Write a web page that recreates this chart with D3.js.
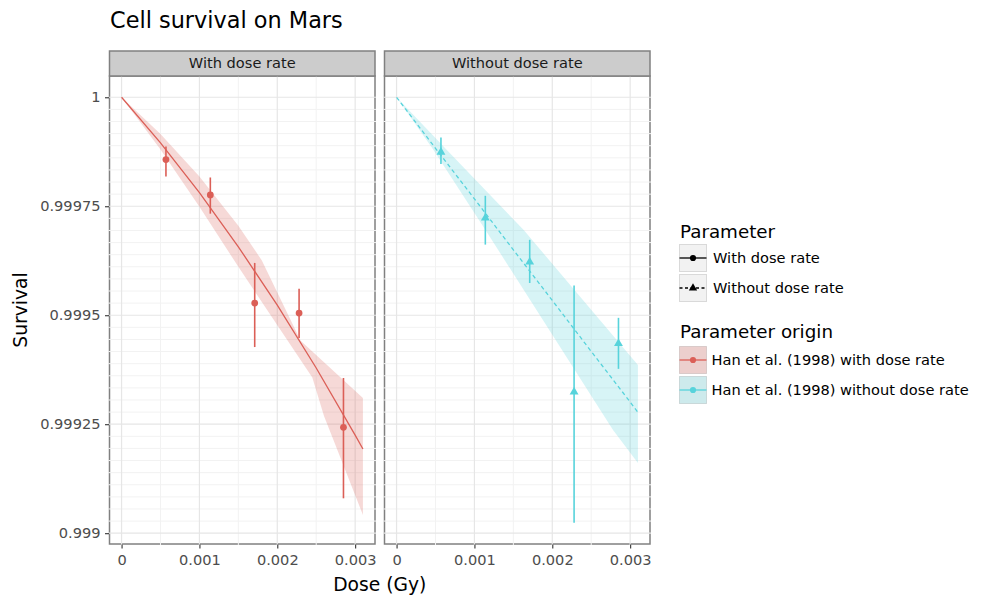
<!DOCTYPE html>
<html>
<head>
<meta charset="utf-8">
<script src="https://cdn.jsdelivr.net/npm/d3@7"></script>
<style>
  body { margin: 0; background: #fff; }
  text { font-family: "DejaVu Sans", sans-serif; }
</style>
</head>
<body>
<svg id="chart" width="984" height="601"></svg>
<script>
// ---- data -------------------------------------------------------------
const doses = [0.00057, 0.00114, 0.00171, 0.00228, 0.00285];

// "With dose rate" observations (point + range)
const withRateSurv = [0.999857, 0.999776, 0.999528, 0.999505, 0.999243];
const withRateLow  = [0.999818, 0.999733, 0.999427, 0.999448, 0.999080];
const withRateHigh = [0.999887, 0.999816, 0.999620, 0.999561, 0.999356];

// "Without dose rate" observations
const withoutRateSurv = [0.999874, 0.999723, 0.999622, 0.999324, 0.999435];
const withoutRateLow  = [0.999847, 0.999662, 0.999574, 0.999024, 0.999377];
const withoutRateHigh = [0.999908, 0.999774, 0.999673, 0.999568, 0.999494];

// model curves
const fitDose = [0, 0.0005, 0.001, 0.0015, 0.002, 0.0025, 0.003, 0.0031];
const withRateFit    = [1, 0.9998955, 0.9997812, 0.999657, 0.999523, 0.999379, 0.999225, 0.999193];
const withoutRateFit = [1, 0.999883, 0.999767, 0.99965, 0.999534, 0.999417, 0.999301, 0.999277];

// model uncertainty bands (upper / lower edges)
const withRateBandUpperDose = [0, 0.0005, 0.001, 0.0015, 0.0018, 0.0023, 0.0031];
const withRateBandUpper     = [1, 0.999916, 0.999818, 0.9997055, 0.999626, 0.9994415, 0.99931];
const withRateBandLowerDose = [0, 0.0005, 0.001, 0.0015, 0.0019, 0.00245, 0.0026, 0.0031];
const withRateBandLower     = [1, 0.99988, 0.999749, 0.999611, 0.999504, 0.999357, 0.999269, 0.999042];

const withoutRateBandUpperDose = [0, 0.00064, 0.00163, 0.0031];
const withoutRateBandUpper     = [1, 0.99988, 0.999696, 0.999386];
const withoutRateBandLowerDose = [0, 0.00047, 0.00114, 0.00278, 0.0031];
const withoutRateBandLower     = [1, 0.99988, 0.999696, 0.999237, 0.999161];

// axes
const xTicks = [0, 0.001, 0.002, 0.003];
const xTickLabels = ["0", "0.001", "0.002", "0.003"];
const yTicks = [0.999, 0.99925, 0.9995, 0.99975, 1];
const yTickLabels = ["0.999", "0.99925", "0.9995", "0.99975", "1"];

const facetLabels = ["With dose rate", "Without dose rate"];
const shapeLegendLabels = ["With dose rate", "Without dose rate"];
const colourLegendLabels = ["Han et al. (1998) with dose rate", "Han et al. (1998) without dose rate"];

const RED = "#db5f57", CYAN = "#57d3db";

// ---- layout -----------------------------------------------------------
const svg = d3.select("#chart");
svg.append("rect").attr("width", 984).attr("height", 601).attr("fill", "#fff");

const panelTop = 76, panelBottom = 544, stripTop = 51;
const panels = [
  { label: facetLabels[0], x0: 109.5, x1: 375, colour: RED, dashed: false, shape: d3.symbolCircle,
    surv: withRateSurv, low: withRateLow, high: withRateHigh, fit: withRateFit,
    upD: withRateBandUpperDose, up: withRateBandUpper, loD: withRateBandLowerDose, lo: withRateBandLower },
  { label: facetLabels[1], x0: 384.5, x1: 650, colour: CYAN, dashed: true, shape: d3.symbolTriangle,
    surv: withoutRateSurv, low: withoutRateLow, high: withoutRateHigh, fit: withoutRateFit,
    upD: withoutRateBandUpperDose, up: withoutRateBandUpper, loD: withoutRateBandLowerDose, lo: withoutRateBandLower }
];

// shared domains with a 5% padding on each side
const xExt = [0, d3.max(fitDose)];
const xPad = (xExt[1] - xExt[0]) * 0.05;
const allY = [].concat(withRateLow, withRateHigh, withoutRateLow, withoutRateHigh,
                       withRateFit, withoutRateFit, withRateBandLower, withoutRateBandLower,
                       withRateBandUpper, withoutRateBandUpper);
const yExt = d3.extent(allY);
const yPad = (yExt[1] - yExt[0]) * 0.05;
const y = d3.scaleLinear().domain([yExt[0] - yPad, yExt[1] + yPad]).range([panelBottom, panelTop]);

// grid positions
const yMinor = [];
for (let i = 0; i < yTicks.length - 1; i++) {
  const step = (yTicks[i + 1] - yTicks[i]) / 9;
  for (let k = 1; k < 9; k++) yMinor.push(yTicks[i] + k * step);
}
const xMinor = [0.0005, 0.0015, 0.0025];

panels.forEach(p => {
  const x = d3.scaleLinear().domain([xExt[0] - xPad, xExt[1] + xPad]).range([p.x0, p.x1]);
  const g = svg.append("g");

  g.append("rect").attr("x", p.x0).attr("y", panelTop)
    .attr("width", p.x1 - p.x0).attr("height", panelBottom - panelTop).attr("fill", "#fff");
  g.append("rect").attr("x", p.x0).attr("y", panelTop)
    .attr("width", p.x1 - p.x0).attr("height", panelBottom - panelTop)
    .attr("fill", "none").attr("stroke", "#808080").attr("stroke-width", 1.5);

  // grid (drawn across the frame)
  const grid = g.append("g");
  grid.selectAll(".ymin").data(yMinor).join("line")
    .attr("x1", p.x0 - 1).attr("x2", p.x1 + 1).attr("y1", d => y(d)).attr("y2", d => y(d))
    .attr("stroke", "#f2f2f2").attr("stroke-width", 1);
  grid.selectAll(".xmin").data(xMinor).join("line")
    .attr("y1", panelTop - 1).attr("y2", panelBottom + 1).attr("x1", d => x(d)).attr("x2", d => x(d))
    .attr("stroke", "#f2f2f2").attr("stroke-width", 1);
  grid.selectAll(".ymaj").data(yTicks).join("line")
    .attr("x1", p.x0 - 1).attr("x2", p.x1 + 1).attr("y1", d => y(d)).attr("y2", d => y(d))
    .attr("stroke", "#e6e6e6").attr("stroke-width", 1.2);
  grid.selectAll(".xmaj").data(xTicks).join("line")
    .attr("y1", panelTop - 1).attr("y2", panelBottom + 1).attr("x1", d => x(d)).attr("x2", d => x(d))
    .attr("stroke", "#e6e6e6").attr("stroke-width", 1.2);

  // uncertainty band
  const bandPts = p.upD.map((d, i) => [x(d), y(p.up[i])])
    .concat(p.loD.map((d, i) => [x(d), y(p.lo[i])]).reverse());
  g.append("path").attr("d", d3.line()(bandPts) + "Z")
    .attr("fill", p.colour).attr("fill-opacity", 0.24);

  // model curve
  g.append("path")
    .attr("d", d3.line().x((d, i) => x(fitDose[i])).y(d => y(d))(p.fit))
    .attr("fill", "none").attr("stroke", p.colour).attr("stroke-width", 1.3)
    .attr("stroke-dasharray", p.dashed ? "4,3" : null);

  // ranges and points
  g.selectAll(".rng").data(doses).join("line")
    .attr("x1", d => x(d)).attr("x2", d => x(d))
    .attr("y1", (d, i) => y(p.low[i])).attr("y2", (d, i) => y(p.high[i]))
    .attr("stroke", p.colour).attr("stroke-width", 1.6);
  g.selectAll(".pt").data(doses).join("path")
    .attr("d", d3.symbol().type(p.shape).size(p.dashed ? 34 : 36))
    .attr("transform", (d, i) => `translate(${x(d)},${y(p.surv[i])})`)
    .attr("fill", p.colour);

  // strip
  g.append("rect").attr("x", p.x0).attr("y", stripTop)
    .attr("width", p.x1 - p.x0).attr("height", panelTop - stripTop)
    .attr("fill", "#cccccc").attr("stroke", "#808080").attr("stroke-width", 1.5);
  g.append("text").attr("x", (p.x0 + p.x1) / 2).attr("y", 67.5)
    .attr("text-anchor", "middle").attr("font-size", 14.6).attr("fill", "#1a1a1a")
    .text(p.label);

  // x axis
  const ax = g.append("g").attr("transform", `translate(0,${panelBottom + 0.5})`)
    .call(d3.axisBottom(x).tickValues(xTicks).tickFormat((d, i) => xTickLabels[i])
      .tickSize(4).tickPadding(6));
  ax.select(".domain").remove();
  ax.selectAll("line").attr("stroke", "#333").attr("stroke-width", 1.1);
  ax.selectAll("text").attr("font-size", 14.6).attr("fill", "#4d4d4d")
    .attr("font-family", "DejaVu Sans");
});

// y axis on the first panel
const ay = svg.append("g").attr("transform", `translate(${panels[0].x0 - 0.5},0)`)
  .call(d3.axisLeft(y).tickValues(yTicks).tickFormat((d, i) => yTickLabels[i])
    .tickSize(4).tickPadding(4.5));
ay.select(".domain").remove();
ay.selectAll("line").attr("stroke", "#333").attr("stroke-width", 1.1);
ay.selectAll("text").attr("font-size", 14.6).attr("fill", "#4d4d4d")
  .attr("font-family", "DejaVu Sans");

// titles
svg.append("text").attr("x", 110).attr("y", 28).attr("font-size", 22.4).attr("fill", "#000")
  .text("Cell survival on Mars");
svg.append("text").attr("x", (panels[0].x0 + panels[1].x1) / 2).attr("y", 590.5)
  .attr("text-anchor", "middle").attr("font-size", 18.7).attr("fill", "#000").text("Dose (Gy)");
svg.append("text").attr("transform", `translate(27,${(panelTop + panelBottom) / 2}) rotate(-90)`)
  .attr("text-anchor", "middle").attr("font-size", 18.7).attr("fill", "#000").text("Survival");

// ---- legends ----------------------------------------------------------
const lg = svg.append("g");
const keyX = 679.5, keyW = 27, keyH = 27;

lg.append("text").attr("x", 680).attr("y", 238).attr("font-size", 18.3).text("Parameter");
const shapeKeys = [
  { y: 244.5, dashed: false, shape: d3.symbolCircle },
  { y: 274.5, dashed: true, shape: d3.symbolTriangle }
];
shapeKeys.forEach((k, i) => {
  lg.append("rect").attr("x", keyX).attr("y", k.y).attr("width", keyW).attr("height", keyH)
    .attr("fill", "#f2f2f2").attr("stroke", "#d9d9d9").attr("stroke-width", 1);
  const cy = k.y + keyH / 2;
  lg.append("line").attr("x1", keyX).attr("x2", keyX + keyW).attr("y1", cy).attr("y2", cy)
    .attr("stroke", "#000").attr("stroke-width", 1.3)
    .attr("stroke-dasharray", k.dashed ? "3,2.5" : null);
  lg.append("path").attr("d", d3.symbol().type(k.shape).size(k.dashed ? 30 : 30)())
    .attr("transform", `translate(${keyX + keyW / 2},${cy})`).attr("fill", "#000");
  lg.append("text").attr("x", 713).attr("y", cy).attr("dy", "0.35em")
    .attr("font-size", 14.6).text(shapeLegendLabels[i]);
});

lg.append("text").attr("x", 680).attr("y", 338).attr("font-size", 18.3).text("Parameter origin");
const colourKeys = [{ y: 346.5, colour: RED }, { y: 376.5, colour: CYAN }];
colourKeys.forEach((k, i) => {
  lg.append("rect").attr("x", keyX).attr("y", k.y).attr("width", keyW).attr("height", keyH)
    .attr("fill", "#f2f2f2").attr("stroke", "#d9d9d9").attr("stroke-width", 1);
  lg.append("rect").attr("x", keyX).attr("y", k.y).attr("width", keyW).attr("height", keyH)
    .attr("fill", k.colour).attr("fill-opacity", 0.24);
  const cy = k.y + keyH / 2;
  lg.append("line").attr("x1", keyX).attr("x2", keyX + keyW).attr("y1", cy).attr("y2", cy)
    .attr("stroke", k.colour).attr("stroke-width", 1.3);
  lg.append("path").attr("d", d3.symbol().type(d3.symbolCircle).size(30)())
    .attr("transform", `translate(${keyX + keyW / 2},${cy})`).attr("fill", k.colour);
  lg.append("text").attr("x", 711.5).attr("y", cy).attr("dy", "0.35em")
    .attr("font-size", 14.6).text(colourLegendLabels[i]);
});
</script>
</body>
</html>
